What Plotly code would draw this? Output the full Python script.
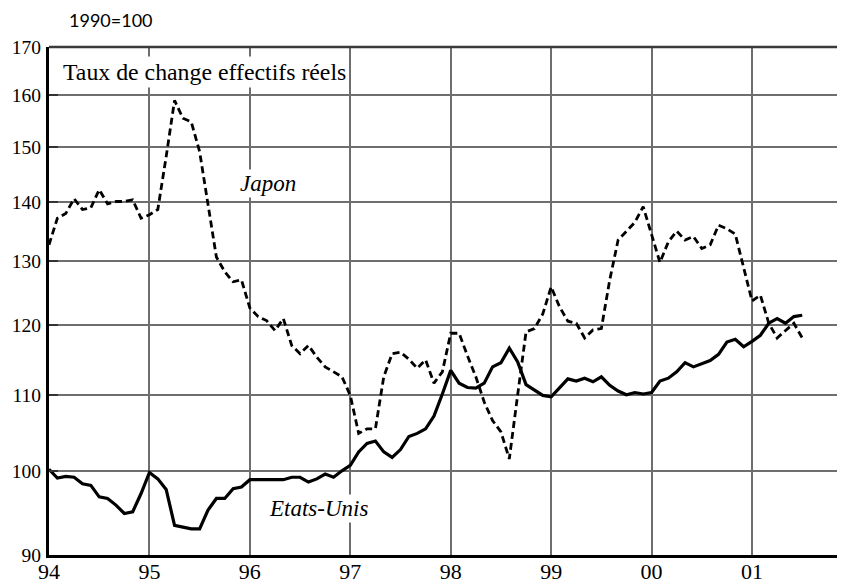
import plotly.graph_objects as go
import math

# Monthly data, Jan 1994 .. Jul 2001
months = [1994 + m / 12 for m in range(91)]

etats_unis = [
    100.2, 99.1, 99.3, 99.2, 98.4, 98.2, 96.8, 96.6, 95.8, 94.8, 95.0, 97.2,
    99.8, 99.0, 97.7, 93.4, 93.2, 93.0, 93.0, 95.2, 96.6, 96.6, 97.8, 98.0,
    98.9, 98.9, 98.9, 98.9, 98.9, 99.2, 99.2, 98.6, 99.0, 99.6, 99.2, 100.0,
    100.7, 102.4, 103.5, 103.8, 102.4, 101.7, 102.7, 104.4, 104.8, 105.4, 107.1, 110.1,
    113.4, 111.6, 111.0, 110.9, 111.6, 113.9, 114.5, 116.6, 114.6, 111.4, 110.7, 109.9,
    109.7, 110.9, 112.2, 111.9, 112.3, 111.8, 112.5, 111.3, 110.5, 110.0, 110.3, 110.1,
    110.3, 111.9, 112.3, 113.2, 114.5, 113.9, 114.3, 114.8, 115.7, 117.5, 117.9, 116.8,
    117.6, 118.5, 120.3, 121.0, 120.3, 121.3, 121.5,
]

japon = [
    132.7, 137.2, 138.0, 140.6, 138.7, 139.0, 142.2, 139.7, 140.1, 140.1, 140.4, 137.2,
    137.8, 138.7, 148.2, 159.0, 155.5, 154.8, 149.1, 139.3, 130.7, 128.3, 126.7, 127.0,
    122.6, 121.3, 120.7, 119.2, 121.0, 117.0, 115.8, 117.0, 115.3, 113.9, 113.2, 112.5,
    109.9, 104.8, 105.4, 105.4, 112.5, 115.8, 116.0, 115.0, 113.7, 114.9, 111.6, 113.2,
    118.8, 118.8, 115.5, 112.5, 109.0, 106.5, 105.0, 101.5, 110.0, 119.0, 119.5, 121.7,
    125.9, 122.8, 120.6, 120.3, 118.1, 119.3, 119.5, 127.0, 133.5, 135.0, 136.5, 139.2,
    134.5, 129.8, 133.2, 135.0, 133.5, 134.1, 132.1, 132.7, 136.0, 135.4, 134.5, 129.0,
    123.7, 124.6, 120.3, 118.1, 119.2, 120.3, 118.1,
]

x_tickvals = [1994, 1995, 1996, 1997, 1998, 1999, 2000, 2001]
x_ticktext = ["94", "95", "96", "97", "98", "99", "00", "01"]
y_tickvals = [90, 100, 110, 120, 130, 140, 150, 160, 170]

fig = go.Figure()
fig.add_trace(go.Scatter(
    x=months, y=japon, mode="lines", name="Japon",
    line=dict(color="black", width=2.8, dash="7px,4px"),
))
fig.add_trace(go.Scatter(
    x=months, y=etats_unis, mode="lines", name="Etats-Unis",
    line=dict(color="black", width=3.2),
))

serif = "Liberation Serif"

# the page body adds an 8px offset; the figure is sized so the plot area
# lands at x 49..845, y 47..555 in the 845x585 window
fig.update_layout(
    width=837, height=577,
    margin=dict(l=41, r=0, t=39, b=30),
    paper_bgcolor="white", plot_bgcolor="white",
    showlegend=False,
    xaxis=dict(
        range=[1994, 1994 + 796 / 100.43],
        tickvals=x_tickvals, ticktext=x_ticktext,
        showgrid=True, gridcolor="#6e6e6e", gridwidth=1.8,
        showline=True, linecolor="black", linewidth=3,
        ticks="", zeroline=False, ticklabelstandoff=-5,
        tickfont=dict(family=serif, size=22, color="black"),
    ),
    yaxis=dict(
        type="log",
        range=[math.log10(90), math.log10(170)],
        tickvals=y_tickvals, ticktext=[str(v) for v in y_tickvals],
        showgrid=True, gridcolor="#6e6e6e", gridwidth=1.8,
        showline=True, linecolor="black", linewidth=3,
        ticks="inside", ticklen=9, tickwidth=2, tickcolor="#333333",
        zeroline=False, ticklabelstandoff=1,
        tickfont=dict(family=serif, size=19.5, color="black"),
    ),
    shapes=[dict(type="line", xref="paper", yref="paper", x0=0, x1=1, y0=1, y1=1,
                 line=dict(color="#3a3a3a", width=2.5))],
    annotations=[
        dict(text="1990=100", xref="paper", yref="paper", x=0.022, y=1.053,
             xanchor="left", yanchor="middle", showarrow=False,
             font=dict(family="Lato, sans-serif", size=18, color="black")),
        dict(text="Taux de change effectifs réels", xref="paper", yref="paper",
             x=0.014, y=0.951, xanchor="left", yanchor="middle", showarrow=False,
             bgcolor="white", borderpad=2,
             font=dict(family=serif, size=23.8, color="black")),
        dict(text="<i>Japon</i>", xref="paper", yref="paper", x=0.275, y=0.732,
             xanchor="center", yanchor="middle", showarrow=False, bgcolor="white",
             font=dict(family=serif, size=23, color="black")),
        dict(text="<i>Etats-Unis</i>", xref="paper", yref="paper", x=0.338, y=0.0906,
             xanchor="center", yanchor="middle", showarrow=False, bgcolor="white",
             font=dict(family=serif, size=23, color="black")),
    ],
)

fig.write_html("out.html")
